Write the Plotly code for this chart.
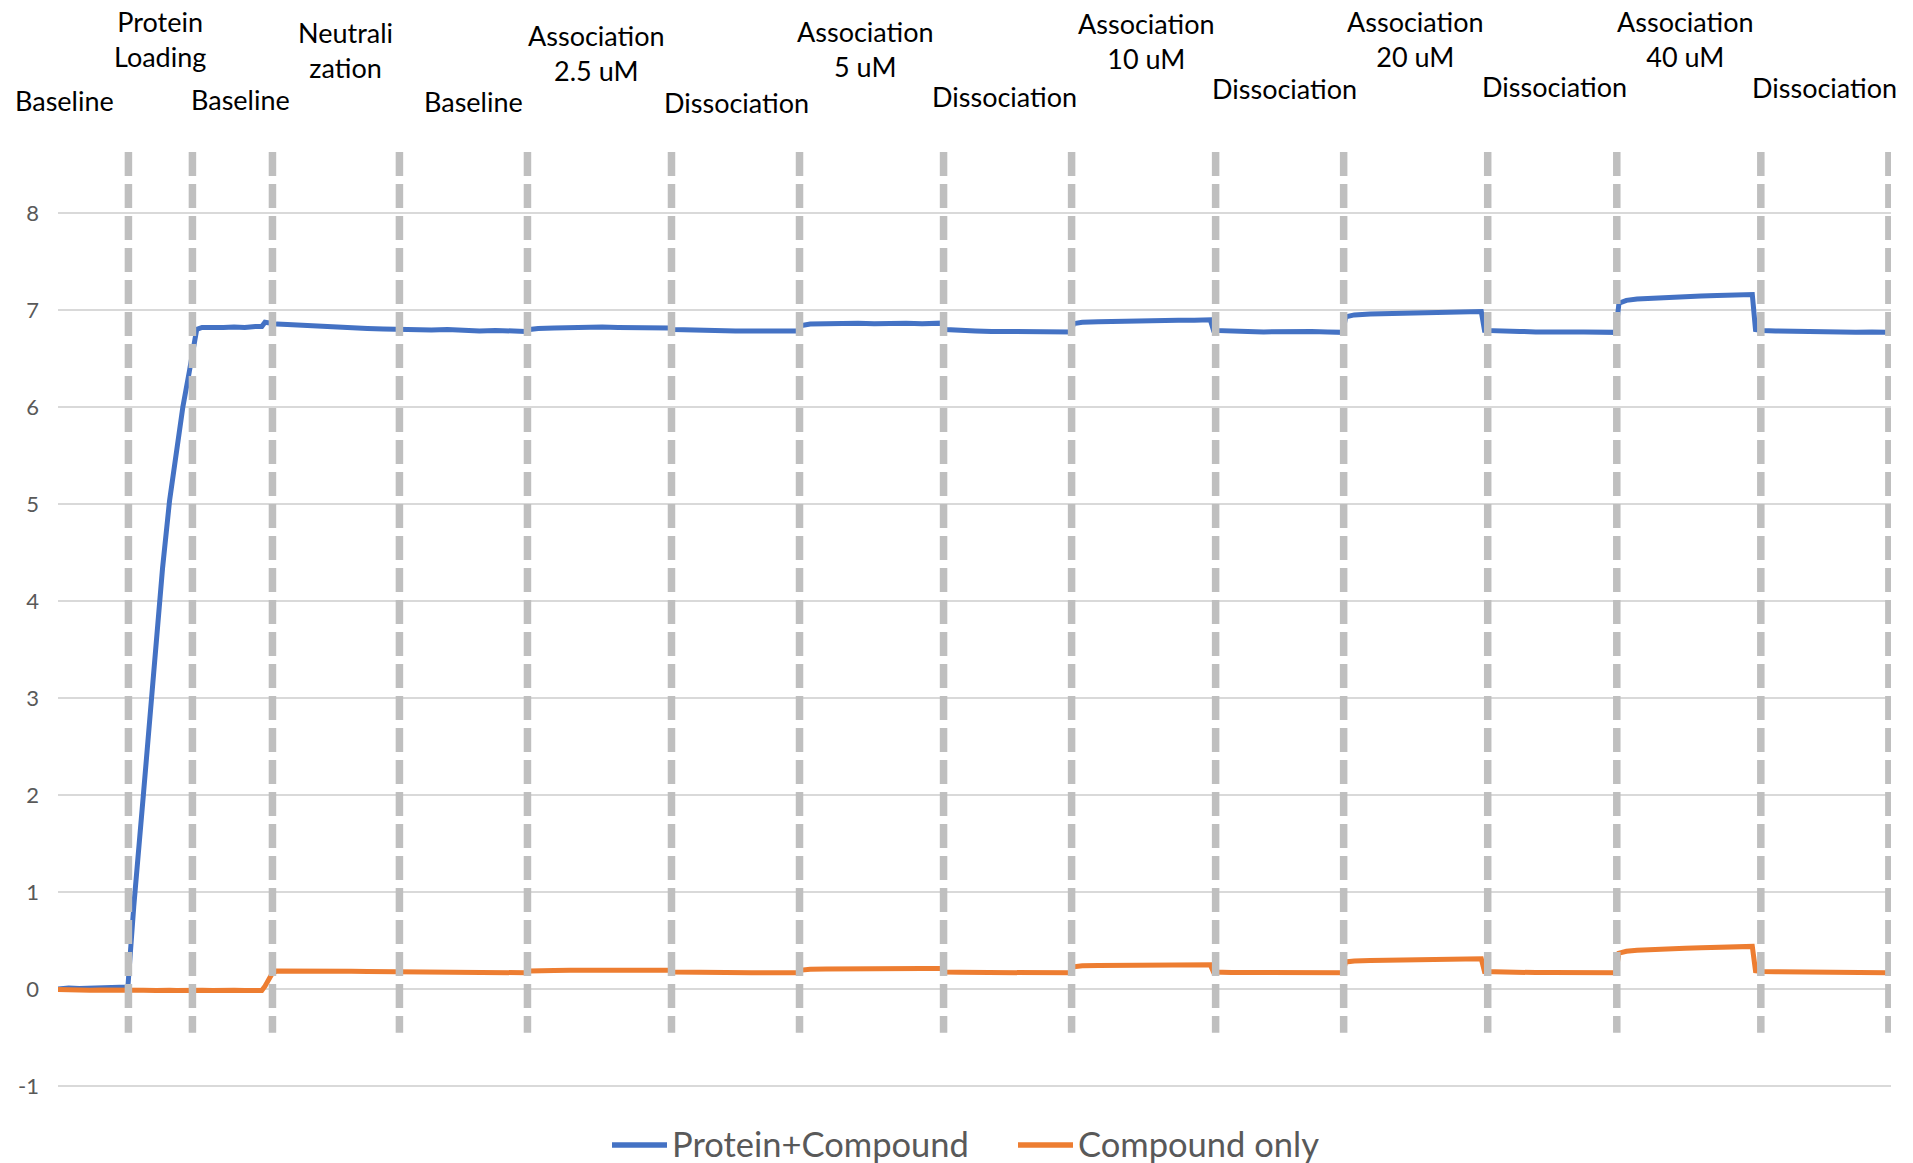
import plotly.graph_objects as go

# ---------------- data ----------------
# time in seconds; step boundaries of the BLI run
step_bounds = [0, 66, 126, 201, 320, 440, 575, 695, 830, 950, 1085, 1205, 1340, 1461, 1596, 1716]

step_labels = [
    "Baseline", "Protein<br>Loading", "Baseline", "Neutrali<br>zation", "Baseline",
    "Association<br>2.5 uM", "Dissociation", "Association<br>5 uM", "Dissociation",
    "Association<br>10 uM", "Dissociation", "Association<br>20 uM", "Dissociation",
    "Association<br>40 uM", "Dissociation",
]

series_names = ["Protein+Compound", "Compound only"]
series_colors = ["#4472C4", "#ED7D31"]

time_s = [
    0, 10, 20, 30, 40, 50, 60, 65.5,
    67, 71, 80, 92, 98, 104.5, 111, 117, 123, 127.5, 130,
    135, 145, 155, 165, 175, 185, 191, 194, 197, 201,
    205, 215, 230, 245, 260, 275, 290, 305, 319,
    322, 335, 350, 365, 380, 395, 410, 425, 438,
    442, 450, 465, 480, 495, 510, 525, 540, 555, 573,
    577, 590, 605, 620, 635, 650, 665, 680, 694,
    697, 705, 720, 735, 750, 765, 780, 795, 810, 828,
    832, 845, 860, 875, 890, 905, 920, 935, 949,
    952, 960, 975, 990, 1005, 1020, 1035, 1050, 1065, 1080, 1083,
    1087, 1100, 1115, 1130, 1145, 1160, 1175, 1190, 1204,
    1207, 1215, 1230, 1245, 1260, 1275, 1290, 1305, 1320, 1334, 1337,
    1342, 1355, 1370, 1385, 1400, 1415, 1430, 1445, 1460,
    1463, 1470, 1480, 1495, 1510, 1525, 1540, 1555, 1570, 1580, 1588, 1591,
    1597, 1610, 1625, 1640, 1655, 1670, 1685, 1700, 1714,
]

protein_compound = [
    0.0, 0.01, 0.005, 0.01, 0.012, 0.008, 0.015, 0.02,
    0.25, 0.85, 2.0, 3.6, 4.34, 5.03, 5.58, 6.0, 6.36, 6.62, 6.80,
    6.82, 6.815, 6.82, 6.825, 6.82, 6.83, 6.83, 6.875, 6.87, 6.86,
    6.855, 6.85, 6.84, 6.83, 6.82, 6.815, 6.81, 6.805, 6.80,
    6.80, 6.80, 6.795, 6.80, 6.79, 6.785, 6.79, 6.785, 6.78,
    6.80, 6.81, 6.815, 6.82, 6.82, 6.825, 6.82, 6.82, 6.815, 6.815,
    6.80, 6.795, 6.79, 6.79, 6.785, 6.785, 6.78, 6.785, 6.785,
    6.84, 6.855, 6.86, 6.86, 6.865, 6.86, 6.865, 6.865, 6.86, 6.865,
    6.80, 6.79, 6.785, 6.78, 6.78, 6.785, 6.775, 6.78, 6.775,
    6.86, 6.875, 6.88, 6.885, 6.89, 6.89, 6.895, 6.895, 6.895, 6.90, 6.79,
    6.79, 6.785, 6.78, 6.775, 6.78, 6.775, 6.78, 6.775, 6.77,
    6.93, 6.95, 6.96, 6.965, 6.97, 6.975, 6.975, 6.98, 6.985, 6.985, 6.79,
    6.79, 6.785, 6.78, 6.775, 6.78, 6.775, 6.775, 6.77, 6.77,
    7.07, 7.10, 7.115, 7.125, 7.135, 7.14, 7.145, 7.15, 7.155, 7.16, 7.16, 6.80,
    6.79, 6.785, 6.78, 6.775, 6.78, 6.775, 6.77, 6.775, 6.77,
]

compound_only = [
    -0.005, -0.01, -0.008, -0.012, -0.01, -0.008, -0.012, -0.01,
    -0.012, -0.01, -0.012, -0.015, -0.01, -0.012, -0.015, -0.012, -0.01, -0.012, -0.015,
    -0.012, -0.015, -0.01, -0.012, -0.015, -0.012, -0.015, 0.03, 0.10, 0.165,
    0.185, 0.183, 0.185, 0.182, 0.185, 0.183, 0.182, 0.18, 0.18,
    0.178, 0.175, 0.174, 0.176, 0.172, 0.173, 0.172, 0.17, 0.168,
    0.185, 0.19, 0.192, 0.193, 0.195, 0.195, 0.195, 0.196, 0.195, 0.195,
    0.175, 0.172, 0.17, 0.168, 0.17, 0.168, 0.168, 0.17, 0.168,
    0.195, 0.205, 0.207, 0.21, 0.21, 0.212, 0.212, 0.213, 0.213, 0.213,
    0.175, 0.172, 0.17, 0.17, 0.168, 0.168, 0.167, 0.168, 0.167,
    0.23, 0.24, 0.243, 0.245, 0.247, 0.248, 0.248, 0.25, 0.25, 0.25, 0.175,
    0.172, 0.17, 0.17, 0.168, 0.168, 0.17, 0.168, 0.168, 0.168,
    0.28, 0.29, 0.295, 0.298, 0.30, 0.303, 0.305, 0.307, 0.31, 0.312, 0.18,
    0.178, 0.175, 0.172, 0.17, 0.17, 0.17, 0.168, 0.168, 0.168,
    0.37, 0.39, 0.40, 0.41, 0.415, 0.42, 0.425, 0.43, 0.433, 0.437, 0.44, 0.19,
    0.182, 0.178, 0.175, 0.172, 0.172, 0.17, 0.17, 0.168, 0.167,
]

y_ticks = [-1, 0, 1, 2, 3, 4, 5, 6, 7, 8]
y_tick_text = ["-1", "0", "1", "2", "3", "4", "5", "6", "7", "8"]

# label placement (x in seconds, y in paper fraction)
label_x = [6, 96, 171, 269, 389, 505, 636, 757, 887, 1020, 1150, 1272, 1403, 1525, 1656]
label_y = [1.053, 1.1185, 1.054, 1.107, 1.0515, 1.103, 1.051, 1.108, 1.057,
           1.116, 1.066, 1.1187, 1.068, 1.118, 1.067]

FONT = "Lato, Carlito, 'Open Sans', sans-serif"

# figure geometry (pixels)
W, H = 1913, 1163
ML, MR, MT, MB = 58, 22, 150, 75
PW, PH = W - ML - MR, H - MT - MB


def px_x(p):
    return (p - ML) / PW


def px_y(p):
    return (H - MB - p) / PH


fig = go.Figure()
for name, col, vals in zip(series_names, series_colors, [protein_compound, compound_only]):
    fig.add_trace(go.Scatter(
        x=time_s, y=vals, mode="lines", name=name, showlegend=False,
        line=dict(color=col, width=5),
    ))

for b in step_bounds[1:]:
    fig.add_shape(type="line", xref="x", yref="y", x0=b, x1=b, y0=8.63, y1=-0.45,
                  line=dict(color="#BFBFBF", width=7.5, dash="24px,8px"), layer="above")

for txt, lx, ly in zip(step_labels, label_x, label_y):
    fig.add_annotation(text=txt, x=lx, y=ly, xref="x", yref="paper",
                       xanchor="center", yanchor="middle", showarrow=False,
                       font=dict(family=FONT, size=27, color="#000000"))

# legend drawn manually (line sample + text) below the plot
legend_sym_px = [(612, 667), (1018, 1073)]
legend_txt_px = [671, 1077]
for (a, b), tx, name, col in zip(legend_sym_px, legend_txt_px, series_names, series_colors):
    fig.add_shape(type="line", xref="paper", yref="paper",
                  x0=px_x(a), x1=px_x(b), y0=px_y(1145), y1=px_y(1145),
                  line=dict(color=col, width=5.5))
    fig.add_annotation(text=name, x=px_x(tx), y=px_y(1143), xref="paper", yref="paper",
                       xanchor="left", yanchor="middle", showarrow=False, borderpad=0,
                       font=dict(family=FONT, size=34.5, color="#595959"))

fig.update_layout(
    width=W, height=H,
    margin=dict(l=ML, r=MR, t=MT, b=MB),
    paper_bgcolor="white", plot_bgcolor="white",
    font=dict(family=FONT, color="#595959"),
    showlegend=False,
    xaxis=dict(range=[0, 1718], showgrid=False, zeroline=False, showticklabels=False,
               showline=False, ticks=""),
    yaxis=dict(range=[-1.02, 8.65], tickvals=y_ticks, ticktext=y_tick_text, showgrid=True,
               gridcolor="#D9D9D9", gridwidth=2, zeroline=False, showline=False, ticks="",
               tickfont=dict(family=FONT, size=22, color="#595959"),
               ticklabelstandoff=18),
)

fig.write_html("out.html", config={"displayModeBar": False},
               post_script="document.body.style.margin='0';document.body.style.overflow='hidden';")
